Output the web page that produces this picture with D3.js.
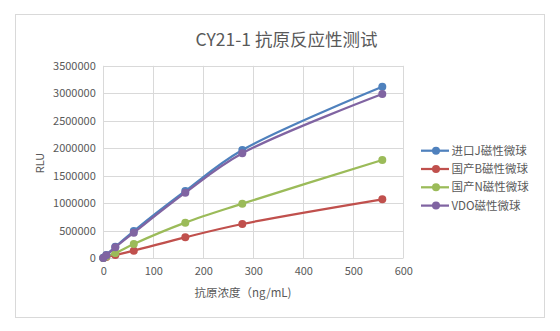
<!DOCTYPE html>
<html>
<head>
<meta charset="utf-8">
<script src="https://cdn.jsdelivr.net/npm/d3@7"></script>
<style>
  html, body { margin: 0; padding: 0; background: #fff; }
  svg { display: block; }
  text { font-family: "Noto Sans CJK SC", "Noto Sans", sans-serif; fill: #595959; }
</style>
</head>
<body>
<svg id="chart" width="560" height="331"></svg>
<script>
// Antigen concentration (ng/mL)
const concentrations = [0, 6, 24, 61, 164, 278, 558];

// RLU readings for each kind of magnetic bead
const seriesNames = ["进口J磁性微球", "国产B磁性微球", "国产N磁性微球", "VDO磁性微球"];
const importedJ = [10000, 60000, 210000, 496000, 1224000, 1969000, 3120000];
const domesticB = [5000, 25000, 60000, 138000, 382000, 624000, 1073000];
const domesticN = [5000, 35000, 95000, 260000, 648000, 993000, 1787000];
const vdo = [5000, 55000, 200000, 466000, 1193000, 1909000, 2987000];
const seriesColors = ["#4f81bd", "#c0504d", "#9bbb59", "#8064a2"];

const xTicks = [0, 100, 200, 300, 400, 500, 600];
const yTicks = [0, 500000, 1000000, 1500000, 2000000, 2500000, 3000000, 3500000];

const titleText = "CY21-1 抗原反应性测试";
const xTitle = "抗原浓度（ng/mL)";
const yTitle = "RLU";

const svg = d3.select("#chart");

// chart frame
svg.append("rect")
  .attr("x", 15.5).attr("y", 14.5)
  .attr("width", 529).attr("height", 303)
  .attr("fill", "#fff").attr("stroke", "#d9d9d9").attr("stroke-width", 1);

const plot = { left: 103.3, right: 403.3, top: 65.8, bottom: 258.3 };

const x = d3.scaleLinear().domain([0, 600]).range([plot.left, plot.right]);
const y = d3.scaleLinear().domain([0, 3500000]).range([plot.bottom, plot.top]);

// gridlines
const grid = svg.append("g").attr("stroke", "#d9d9d9").attr("stroke-width", 1);
grid.selectAll("line.h").data(yTicks).join("line")
  .attr("x1", plot.left).attr("x2", plot.right)
  .attr("y1", d => Math.round(y(d)) + 0.5).attr("y2", d => Math.round(y(d)) + 0.5);
grid.selectAll("line.v").data(xTicks).join("line")
  .attr("y1", plot.top).attr("y2", plot.bottom)
  .attr("x1", d => Math.round(x(d)) + 0.5).attr("x2", d => Math.round(x(d)) + 0.5);

// axes (labels only, lines come from the grid)
const yAxis = svg.append("g")
  .attr("transform", `translate(${plot.left - 7.5},0)`)
  .call(d3.axisLeft(y).tickValues(yTicks).tickSize(0).tickPadding(0).tickFormat(d3.format("d")));
yAxis.select(".domain").remove();
yAxis.selectAll("text").attr("font-size", "11px").attr("fill", "#595959")
  .attr("font-family", "'Noto Sans CJK SC', sans-serif");

const xAxis = svg.append("g")
  .attr("transform", `translate(0,${plot.bottom + 7})`)
  .call(d3.axisBottom(x).tickValues(xTicks).tickSize(0).tickPadding(2).tickFormat(d3.format("d")));
xAxis.select(".domain").remove();
xAxis.selectAll("text").attr("font-size", "11px").attr("fill", "#595959")
  .attr("font-family", "'Noto Sans CJK SC', sans-serif");

// titles
svg.append("text").attr("x", 286.5).attr("y", 46)
  .attr("text-anchor", "middle").attr("font-size", "17.5px").text(titleText);
svg.append("text").attr("x", 243).attr("y", 297)
  .attr("text-anchor", "middle").attr("font-size", "11.5px").text(xTitle);
svg.append("text").attr("transform", "translate(44,163) rotate(-90)")
  .attr("text-anchor", "middle").attr("font-size", "11px").text(yTitle);

// series
const allSeries = [importedJ, domesticB, domesticN, vdo].map((vals, i) => ({
  name: seriesNames[i],
  color: seriesColors[i],
  points: concentrations.map((c, j) => ({ c, v: vals[j] }))
}));

const line = d3.line().x(d => x(d.c)).y(d => y(d.v)).curve(d3.curveCatmullRom.alpha(0.5));

// draw bottom-most first so the blue/purple pair sits on top
const drawOrder = [1, 2, 0, 3];
drawOrder.forEach(i => {
  const s = allSeries[i];
  const g = svg.append("g");
  g.append("path").datum(s.points)
    .attr("d", line).attr("fill", "none")
    .attr("stroke", s.color).attr("stroke-width", 2.25).attr("stroke-linejoin", "round");
  g.selectAll("circle").data(s.points).join("circle")
    .attr("cx", d => x(d.c)).attr("cy", d => y(d.v)).attr("r", 4)
    .attr("fill", s.color);
});

// legend
const legend = svg.append("g");
allSeries.forEach((s, i) => {
  const ly = 150.7 + i * 18.3;
  const item = legend.append("g");
  item.append("line").attr("x1", 421).attr("x2", 449).attr("y1", ly).attr("y2", ly)
    .attr("stroke", s.color).attr("stroke-width", 2.25);
  item.append("circle").attr("cx", 436).attr("cy", ly).attr("r", 4).attr("fill", s.color);
  item.append("text").attr("x", 451.5).attr("y", ly + 4).attr("font-size", "11.5px").text(s.name);
});
</script>
</body>
</html>
